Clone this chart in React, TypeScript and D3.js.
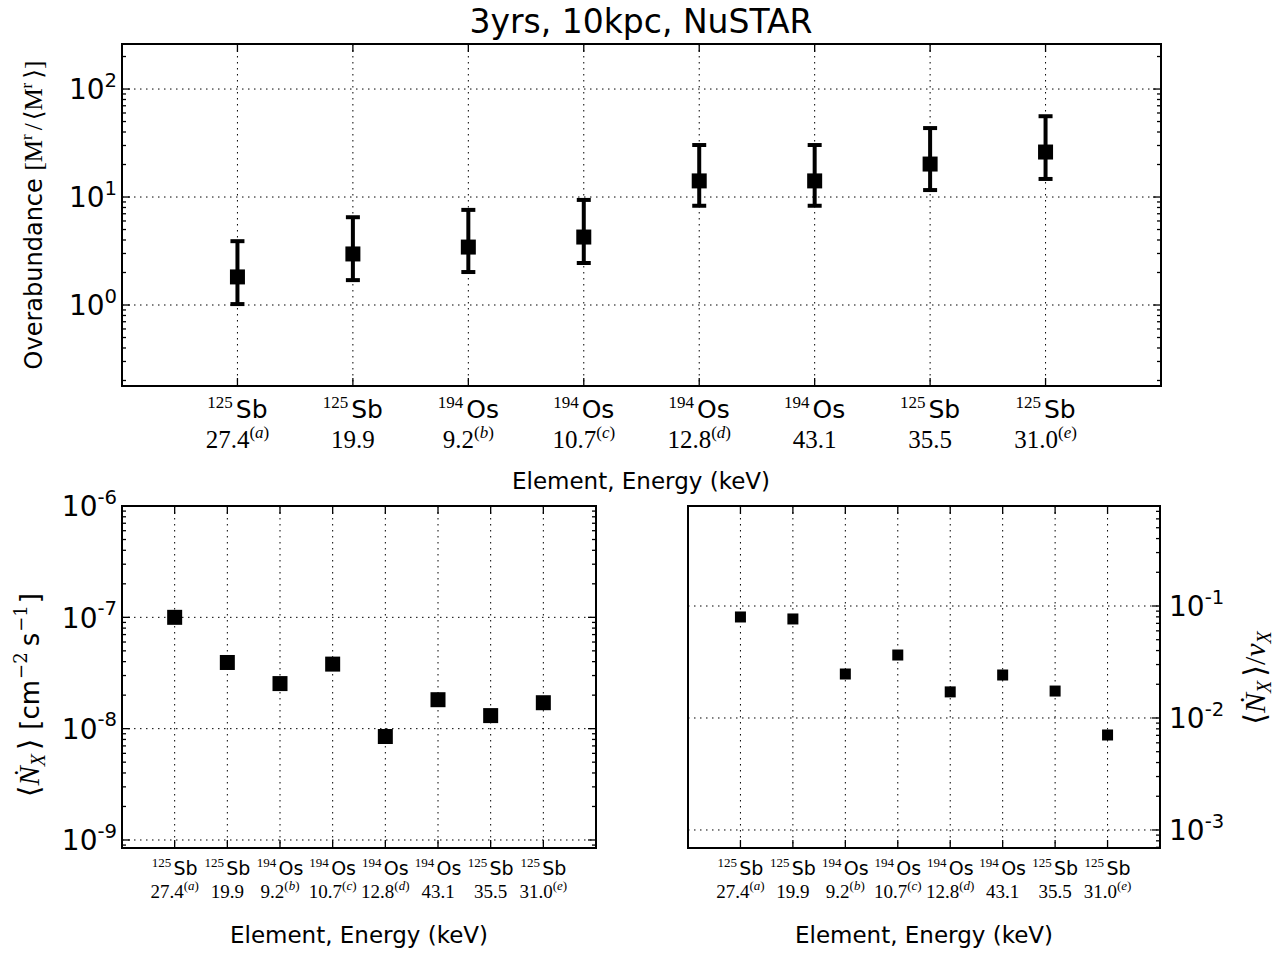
import React from "react";
import * as d3 from "d3";

// ---------- data ----------
const isotopes = ["125", "125", "194", "194", "194", "194", "125", "125"];
const elements = ["Sb", "Sb", "Os", "Os", "Os", "Os", "Sb", "Sb"];
const energies = ["27.4", "19.9", "9.2", "10.7", "12.8", "43.1", "35.5", "31.0"];
const notes = ["a", "", "b", "c", "d", "", "", "e"];

const overabundance = [1.82, 2.97, 3.44, 4.26, 14.1, 14.1, 20.2, 26.1];
const overUpper = [3.9, 6.5, 7.6, 9.4, 30.3, 30.3, 43.5, 56];
const overLower = [1.02, 1.7, 2.02, 2.45, 8.3, 8.3, 11.6, 14.7];

const fluxRate = [1.0e-7, 3.93e-8, 2.54e-8, 3.8e-8, 8.5e-9, 1.82e-8, 1.31e-8, 1.71e-8];
const fluxRatio = [0.0798, 0.0766, 0.0247, 0.0365, 0.0171, 0.0242, 0.0174, 0.00705];

const topDecades = [0, 1, 2];
const leftDecades = [-9, -8, -7, -6];
const rightDecades = [-3, -2, -1];

const title = "3yrs, 10kpc, NuSTAR";
const xTitle = "Element, Energy (keV)";

// ---------- style ----------
const SANS = "'DejaVu Sans', sans-serif";
const SERIF = "'Liberation Serif', 'DejaVu Serif', serif";
const SERIF2 = "'DejaVu Serif', serif";

type Box = { x0: number; x1: number; y0: number; y1: number };

type PanelProps = {
  box: Box;
  yDomain: [number, number];
  decades: number[];
  values: number[];
  lower?: number[];
  upper?: number[];
  markerSize: number;
  rightAxis?: boolean;
  fs: number;
  labFs: number;
  numFs: number;
  supFs: number;
  lab1Y: number;
  lab2Y: number;
};

function Panel(p: PanelProps) {
  const { box } = p;
  const x = d3.scaleLinear().domain([0, isotopes.length + 1]).range([box.x0, box.x1]);
  const y = d3.scaleLog().domain(p.yDomain).range([box.y1, box.y0]);
  const idx = d3.range(isotopes.length);
  const [lo, hi] = p.yDomain;
  const minor: number[] = [];
  for (let d = Math.floor(Math.log10(lo)); d <= Math.ceil(Math.log10(hi)); d++) {
    for (let k = 1; k <= 9; k++) {
      const v = k * Math.pow(10, d);
      if (v >= lo && v <= hi) minor.push(v);
    }
  }
  const majorVals = p.decades.map((d) => Math.pow(10, d));
  const majLen = 8;
  const minLen = 4;
  const tickSup = p.fs * 0.7;
  return (
    <g>
      {/* grid */}
      {idx.map((i) => (
        <line key={"gx" + i} x1={x(i + 1)} x2={x(i + 1)} y1={box.y0} y2={box.y1}
          stroke="#000" strokeWidth={1} strokeDasharray="1.5,4.5" />
      ))}
      {majorVals.map((v, i) => (
        <line key={"gy" + i} x1={box.x0} x2={box.x1} y1={y(v)} y2={y(v)}
          stroke="#000" strokeWidth={1} strokeDasharray="1.5,4.5" />
      ))}
      {/* y ticks */}
      {minor.map((v, i) => {
        const isMaj = majorVals.some((m) => Math.abs(m - v) / m < 1e-9);
        const len = isMaj ? majLen : minLen;
        return (
          <g key={"yt" + i}>
            {!p.rightAxis && (
              <line x1={box.x0} x2={box.x0 + len} y1={y(v)} y2={y(v)} stroke="#000" strokeWidth={1.3} />
            )}
            <line x1={box.x1} x2={box.x1 - len} y1={y(v)} y2={y(v)} stroke="#000" strokeWidth={1.3} />
          </g>
        );
      })}
      {/* x ticks */}
      {idx.map((i) => (
        <g key={"xt" + i}>
          <line x1={x(i + 1)} x2={x(i + 1)} y1={box.y1} y2={box.y1 - majLen} stroke="#000" strokeWidth={1.3} />
          <line x1={x(i + 1)} x2={x(i + 1)} y1={box.y0} y2={box.y0 + majLen} stroke="#000" strokeWidth={1.3} />
        </g>
      ))}
      {/* y tick labels */}
      {p.decades.map((d, i) => {
        const yy = y(Math.pow(10, d)) + p.fs * 0.37;
        return p.rightAxis ? (
          <text key={"yl" + i} x={box.x1 + 9} y={yy} fontFamily={SANS} fontSize={p.fs} textAnchor="start">
            10<tspan fontSize={tickSup} dy={-p.fs * 0.45}>{String(d)}</tspan>
          </text>
        ) : (
          <text key={"yl" + i} x={box.x0 - 5} y={yy} fontFamily={SANS} fontSize={p.fs} textAnchor="end">
            10<tspan fontSize={tickSup} dy={-p.fs * 0.45}>{String(d)}</tspan>
          </text>
        );
      })}
      {/* x tick labels */}
      {idx.map((i) => (
        <g key={"xl" + i}>
          <text x={x(i + 1)} y={p.lab1Y} textAnchor="middle" fontSize={p.labFs}>
            <tspan fontFamily={SERIF} fontSize={p.supFs} dy={-p.labFs * 0.42}>{isotopes[i]}</tspan>
            <tspan fontFamily={SANS} fontSize={p.labFs} dx={p.labFs * 0.12} dy={p.labFs * 0.42}>{elements[i]}</tspan>
          </text>
          <text x={x(i + 1)} y={p.lab2Y} textAnchor="middle" fontFamily={SERIF} fontSize={p.numFs}>
            {energies[i]}
            {notes[i] ? (
              <tspan fontSize={p.supFs} dy={-p.numFs * 0.42}>
                (<tspan fontStyle="italic">{notes[i]}</tspan>)
              </tspan>
            ) : null}
          </text>
        </g>
      ))}
      {/* error bars */}
      {p.lower && p.upper && idx.map((i) => (
        <g key={"eb" + i}>
          <line x1={x(i + 1)} x2={x(i + 1)} y1={y(p.lower![i])} y2={y(p.upper![i])} stroke="#000" strokeWidth={4} />
          <line x1={x(i + 1) - 7} x2={x(i + 1) + 7} y1={y(p.lower![i])} y2={y(p.lower![i])} stroke="#000" strokeWidth={4} />
          <line x1={x(i + 1) - 7} x2={x(i + 1) + 7} y1={y(p.upper![i])} y2={y(p.upper![i])} stroke="#000" strokeWidth={4} />
        </g>
      ))}
      {/* markers */}
      {idx.map((i) => (
        <rect key={"m" + i} x={x(i + 1) - p.markerSize / 2} y={y(p.values[i]) - p.markerSize / 2}
          width={p.markerSize} height={p.markerSize} fill="#000" />
      ))}
      {/* frame */}
      <rect x={box.x0} y={box.y0} width={box.x1 - box.x0} height={box.y1 - box.y0}
        fill="none" stroke="#000" strokeWidth={2} />
    </g>
  );
}

export default function App() {
  const topBox = { x0: 122, x1: 1161, y0: 44, y1: 386 };
  const blBox = { x0: 122, x1: 596, y0: 506, y1: 848 };
  const brBox = { x0: 688, x1: 1160, y0: 506, y1: 848 };
  const topDom: [number, number] = [Math.pow(10, -0.75), Math.pow(10, 2.417)];
  const blDom: [number, number] = [Math.pow(10, -9.072), Math.pow(10, -6)];
  const brDom: [number, number] = [Math.pow(10, -3.161), Math.pow(10, -0.107)];
  const fs = 28;
  return (
    <svg width={1284} height={954} style={{ position: "absolute", left: 0, top: 0, background: "#fff" }}>
      <rect x={0} y={0} width={1284} height={954} fill="#fff" />
      <text x={641} y={33} textAnchor="middle" fontFamily={SANS} fontSize={33}>{title}</text>

      <Panel box={topBox} yDomain={topDom} decades={topDecades} values={overabundance}
        lower={overLower} upper={overUpper} markerSize={15} fs={fs} labFs={25} numFs={25} supFs={17}
        lab1Y={418} lab2Y={448} />
      <Panel box={blBox} yDomain={blDom} decades={leftDecades} values={fluxRate}
        markerSize={15} fs={fs} labFs={19} numFs={19} supFs={13} lab1Y={875} lab2Y={898} />
      <Panel box={brBox} yDomain={brDom} decades={rightDecades} values={fluxRatio}
        markerSize={11} rightAxis fs={fs} labFs={19} numFs={19} supFs={13} lab1Y={875} lab2Y={898} />

      {/* x axis titles */}
      <text x={641} y={489} textAnchor="middle" fontFamily={SANS} fontSize={23}>{xTitle}</text>
      <text x={359} y={943} textAnchor="middle" fontFamily={SANS} fontSize={23}>{xTitle}</text>
      <text x={924} y={943} textAnchor="middle" fontFamily={SANS} fontSize={23}>{xTitle}</text>

      {/* y axis titles */}
      <text transform="translate(42,215) rotate(-90)" textAnchor="middle" fontFamily={SANS} fontSize={24}>
        Overabundance{" "}
        <tspan fontFamily={SERIF} fontSize={25}>[M<tspan fontSize={17} dy={-10}>r</tspan><tspan dx={4} dy={10}>/</tspan><tspan dx={3}>⟨M</tspan><tspan fontSize={17} dy={-10}>r</tspan><tspan dx={4} dy={10}>⟩]</tspan></tspan>
      </text>
      <text transform="translate(39,695) rotate(-90)" textAnchor="middle" fontFamily={SANS} fontSize={26}>
        <tspan fontFamily={SERIF} fontSize={29}>⟨</tspan><tspan fontFamily={SERIF} fontStyle="italic" fontSize={29}>N&#x307;</tspan><tspan fontFamily={SERIF} fontStyle="italic" fontSize={20} dy={6}>X</tspan><tspan fontFamily={SERIF} fontSize={29} dx={4} dy={-6}>⟩</tspan>
        <tspan dx={9}>[cm</tspan><tspan fontFamily={SERIF2} fontSize={18} dx={1} dy={-12}>−2</tspan><tspan dx={6} dy={12}>s</tspan><tspan fontFamily={SERIF2} fontSize={18} dx={1} dy={-12}>−1</tspan><tspan dx={2} dy={12}>]</tspan>
      </text>
      <text transform="translate(1265,678) rotate(-90)" textAnchor="middle" fontFamily={SERIF} fontSize={30}>
        ⟨<tspan fontStyle="italic">N&#x307;</tspan><tspan fontStyle="italic" fontSize={20} dy={6}>X</tspan><tspan dx={4} dy={-6}>⟩/</tspan><tspan fontStyle="italic">ν</tspan><tspan fontStyle="italic" fontSize={20} dy={6}>X</tspan>
      </text>
    </svg>
  );
}
